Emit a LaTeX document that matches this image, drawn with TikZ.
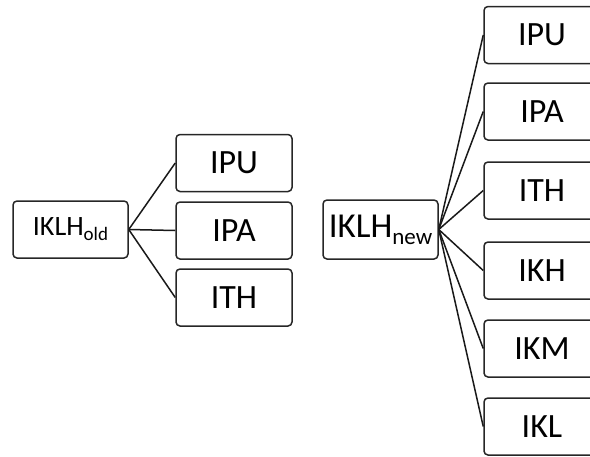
\documentclass[tikz,border=0pt]{standalone}
\usepackage{fontspec}
\setmainfont{Carlito}
\newcommand{\lowsub}[3]{\raisebox{-#1}{\fontsize{#2}{#2}\selectfont #3}}
\begin{document}
\begin{tikzpicture}[x=1pt,y=-1pt,
  box/.style={draw=black!85,line width=1.5pt,rounded corners=4pt,inner sep=0pt,
    minimum width=116pt,minimum height=57pt,font=\fontsize{34}{36}\selectfont},
  conn/.style={draw=black!90,line width=1.5pt}]
\useasboundingbox (0,0) rectangle (590,456);
\clip (0,0) rectangle (590,456);
% left tree
\node[box,minimum width=115pt,font=\fontsize{28}{30}\selectfont] (old) at (70.5,229.5) {IKLH\lowsub{5pt}{19}{old}};
\node[box] (lipu) at (234,163) {IPU};
\node[box] (lipa) at (234,230.5) {IPA};
\node[box] (lith) at (234,297.5) {ITH};
\foreach \c in {lipu,lipa,lith} \draw[conn] (old.east) -- (\c.west);
% right tree
\node[box,minimum width=115pt,minimum height=59pt,font=\fontsize{35}{37}\selectfont] (new) at (380.5,229.5) {IKLH\lowsub{7pt}{23}{new}};
\node[box] (ripu) at (542,35) {IPU};
\node[box] (ripa) at (542,111.5) {IPA};
\node[box] (rith) at (542,190.5) {ITH};
\node[box] (rikh) at (542,270.5) {IKH};
\node[box] (rikm) at (542,348.5) {IKM};
\node[box] (rikl) at (542,426.5) {IKL};
\foreach \c in {ripu,ripa,rith,rikh,rikm,rikl} \draw[conn] (new.east) -- (\c.west);
\end{tikzpicture}
\end{document}
